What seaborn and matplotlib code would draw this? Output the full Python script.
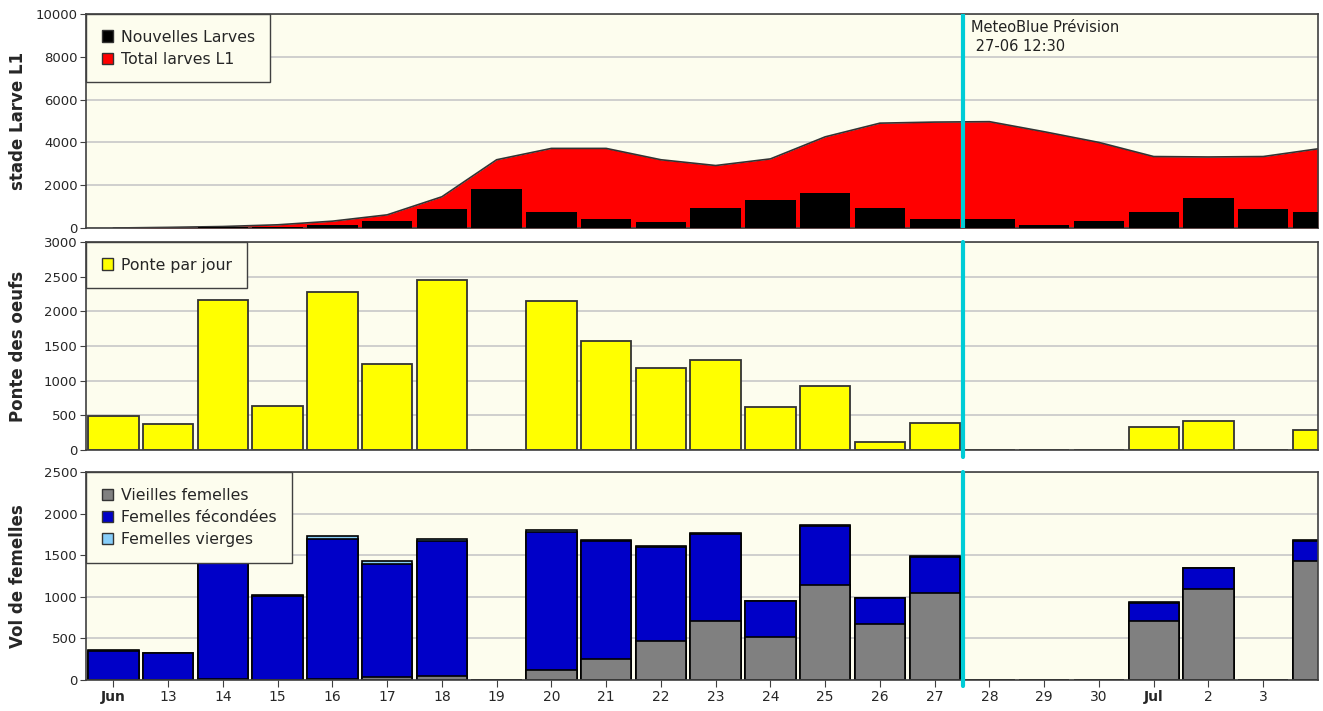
import numpy as np
import pandas as pd
import matplotlib
matplotlib.use('Agg')
import matplotlib.pyplot as plt
import seaborn as sns
from matplotlib.patches import Patch

sns.set_style('ticks')
plt.rcParams['font.family'] = ['DejaVu Sans']

# Days shown on the x axis (12 June -> 4 July)
days = ['Jun', '13', '14', '15', '16', '17', '18', '19', '20', '21', '22', '23',
        '24', '25', '26', '27', '28', '29', '30', 'Jul', '2', '3', '4']

# Top panel: larvae
nouvelles_larves = [0, 20, 30, 60, 150, 350, 880, 1800, 750, 415, 290, 950,
                    1290, 1620, 950, 415, 415, 150, 350, 750, 1410, 880, 750]
total_larves = [0, 30, 70, 150, 320, 615, 1460, 3190, 3720, 3720, 3190, 2920,
                3230, 4260, 4900, 4950, 4970, 4500, 4000, 3340, 3320, 3340, 3700]

# Middle panel: eggs laid per day
ponte = [495, 375, 2170, 640, 2280, 1245, 2457, 0, 2149, 1567, 1178, 1298,
         620, 928, 120, 389, 0, 0, 0, 332, 413, 0, 288]

# Bottom panel: female flight
vieilles = [0, 0, 10, 5, 12, 32, 48, 0, 120, 257, 465, 706,
            518, 1136, 674, 1051, 0, 0, 0, 706, 1088, 0, 1433]
fecondees = [350, 320, 1610, 1005, 1681, 1368, 1628, 0, 1663, 1408, 1130, 1044,
             428, 715, 312, 429, 0, 0, 0, 214, 259, 0, 239]
vierges = [12, 10, 12, 14, 40, 25, 18, 0, 15, 12, 10, 12,
           5, 15, 5, 5, 0, 0, 0, 15, 5, 0, 5]

forecast_pos = 15.52  # 27-06 12:30

df = pd.DataFrame({'day': days, 'nouvelles': nouvelles_larves, 'total': total_larves,
                   'ponte': ponte, 'vieilles': vieilles, 'fecondees': fecondees,
                   'vierges': vierges})
df['pos'] = np.arange(len(df))
df['cum_fec'] = df['vieilles'] + df['fecondees']
df['cum_all'] = df['cum_fec'] + df['vierges']

bg = '#FDFDEE'
edge = '#333333'
grid = '#C8C8C8'
cyan = '#00CCD6'

legend_kw = dict(loc='upper left', borderaxespad=0, fancybox=False, framealpha=1,
                 facecolor=bg, edgecolor='#404040', fontsize=11.3, handlelength=0.75,
                 handleheight=0.75, handletextpad=0.45, borderpad=1.0, labelspacing=0.45)

fig = plt.figure(figsize=(13.23, 7.11), dpi=100)
ax1 = fig.add_axes([0.065, 0.6793, 0.9312, 0.301])
ax2 = fig.add_axes([0.065, 0.3671, 0.9312, 0.2925])
ax3 = fig.add_axes([0.065, 0.0436, 0.9312, 0.2925])

for ax in (ax1, ax2, ax3):
    ax.set_facecolor(bg)
    ax.set_axisbelow(True)

# 1. Larvae
ax1.fill_between(df['pos'], df['total'], color='#FF0000', zorder=1, linewidth=0)
sns.lineplot(x=df['pos'], y=df['total'], color=edge, linewidth=1.2, ax=ax1, zorder=2)
sns.barplot(x=df['pos'], y=df['nouvelles'], color='black', saturation=1, width=0.92,
            linewidth=0, ax=ax1, zorder=3, native_scale=True)
ax1.set_ylim(0, 10000)
ax1.set_yticks(range(0, 10001, 2000))
ax1.set_ylabel('stade Larve L1', fontsize=12, fontweight='bold')
ax1.legend(handles=[Patch(facecolor='black', edgecolor=edge, label='Nouvelles Larves'),
                    Patch(facecolor='#FF0000', edgecolor=edge, label='Total larves L1')],
           **legend_kw)
ax1.text(forecast_pos + 0.15, 9700, 'MeteoBlue Prévision\n 27-06 12:30', fontsize=10.5,
         va='top', ha='left', color='#222222', linespacing=1.3)

# 2. Eggs
sns.barplot(x=df['pos'], y=df['ponte'], color='#FFFF00', saturation=1, width=0.92,
            edgecolor=edge, linewidth=1.3, ax=ax2, native_scale=True)
ax2.set_ylim(0, 3000)
ax2.set_yticks(range(0, 3001, 500))
ax2.set_ylabel('Ponte des oeufs', fontsize=12, fontweight='bold')
ax2.legend(handles=[Patch(facecolor='#FFFF00', edgecolor=edge, label='Ponte par jour')],
           **legend_kw)

# 3. Female flight (layered cumulative bars)
sns.barplot(x=df['pos'], y=df['cum_all'], color='#87CEFA', saturation=1, width=0.92,
            edgecolor='black', linewidth=1.2, ax=ax3, native_scale=True)
sns.barplot(x=df['pos'], y=df['cum_fec'], color='#0000C8', saturation=1, width=0.92,
            edgecolor='black', linewidth=1.2, ax=ax3, native_scale=True)
sns.barplot(x=df['pos'], y=df['vieilles'], color='#808080', saturation=1, width=0.92,
            edgecolor='black', linewidth=1.2, ax=ax3, native_scale=True)
ax3.set_ylim(0, 2500)
ax3.set_yticks(range(0, 2501, 500))
ax3.set_ylabel('Vol de femelles', fontsize=12, fontweight='bold')
ax3.legend(handles=[Patch(facecolor='#808080', edgecolor=edge, label='Vieilles femelles'),
                    Patch(facecolor='#0000C8', edgecolor=edge, label='Femelles fécondées'),
                    Patch(facecolor='#87CEFA', edgecolor=edge, label='Femelles vierges')],
           **legend_kw)

for ax in (ax1, ax2, ax3):
    ax.set_xlim(-0.5, 22)
    ax.grid(axis='y', color=grid, linewidth=1.2)
    ax.grid(axis='x', visible=False)
    for s in ax.spines.values():
        s.set_color('#404040')
        s.set_linewidth(1.2)
    ax.tick_params(axis='y', labelsize=9.5, length=4, color='#404040', pad=2)
    ax.set_xlabel('')
    ax.yaxis.set_label_coords(-0.048, 0.5)

for ax in (ax1, ax2):
    ax.set_xticks([])

ax3.set_xticks(df['pos'][:-1])
ax3.set_xticklabels(days[:-1])
ax3.tick_params(axis='x', labelsize=10, length=5, color='#404040', pad=2)
for lab in ax3.get_xticklabels():
    if lab.get_text() in ('Jun', 'Jul'):
        lab.set_fontweight('bold')

# forecast marker
ax1.axvline(forecast_pos, color=cyan, linewidth=3, zorder=5)
ax2.axvline(forecast_pos, ymin=-0.035, ymax=1, color=cyan, linewidth=3, zorder=5, clip_on=False)
ax3.axvline(forecast_pos, ymin=-0.03, ymax=1, color=cyan, linewidth=3, zorder=5, clip_on=False)

fig.savefig('out.png', dpi=100, facecolor='white')
